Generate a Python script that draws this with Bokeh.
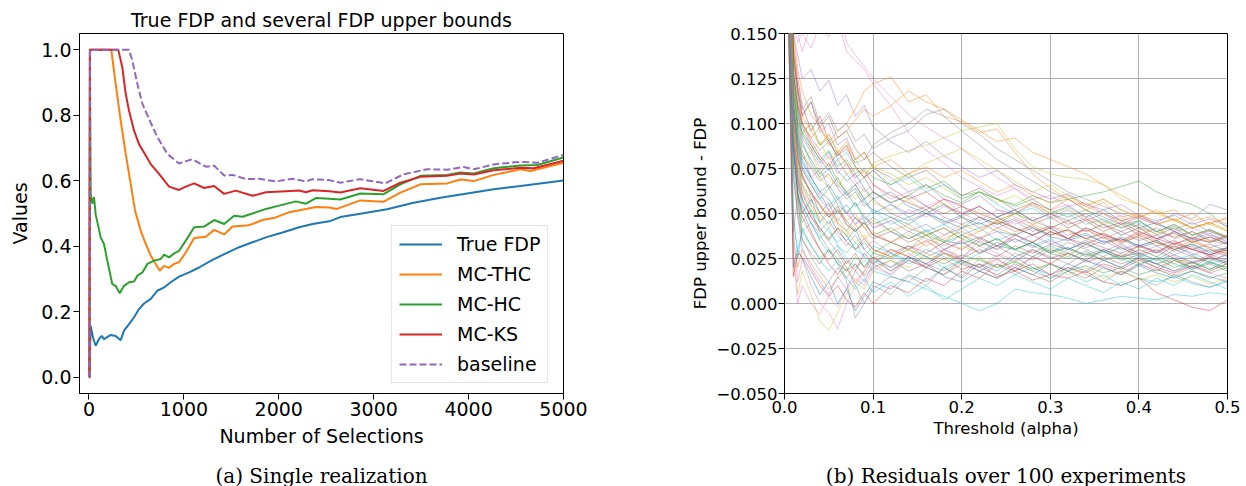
from bokeh.plotting import figure
from bokeh.layouts import row, column
from bokeh.models import (FixedTicker, CustomJSTickFormatter, Legend,
                          LegendItem, Range1d)
from bokeh.core.properties import value
from bokeh.embed import file_html
from bokeh.resources import INLINE

# ---------------- (a) Single realization ----------------
fdp_n = [0, 5, 18, 42, 70, 105, 134, 158, 229, 281, 334, 369, 422, 475, 527, 580,
         651, 721, 791, 861, 949, 1055, 1160, 1301, 1442, 1582, 1723, 1864, 2039,
         2215, 2356, 2532, 2648, 2859, 3140, 3421, 3703, 3984, 4265, 4546, 5000]
fdp_v = [0.0, 0.0, 0.157, 0.121, 0.096, 0.116, 0.126, 0.116, 0.129, 0.126, 0.113,
         0.142, 0.162, 0.183, 0.208, 0.225, 0.239, 0.264, 0.274, 0.290, 0.307,
         0.320, 0.335, 0.358, 0.378, 0.397, 0.412, 0.427, 0.442, 0.458, 0.468,
         0.476, 0.489, 0.499, 0.513, 0.533, 0.548, 0.561, 0.574, 0.584, 0.601]

thc_n = [0, 5, 10, 235, 281, 334, 387, 440, 485, 545, 598, 651, 703, 746, 791, 844,
         897, 949, 1020, 1108, 1231, 1319, 1424, 1512, 1660, 1723, 1828, 1969,
         2110, 2286, 2391, 2532, 2613, 2859, 3105, 3281, 3492, 3773, 3913, 4054,
         4265, 4546, 4652, 5000]
thc_v = [0.0, 0.0, 1.0, 1.0, 0.896, 0.784, 0.682, 0.590, 0.509, 0.447, 0.407,
         0.371, 0.346, 0.325, 0.340, 0.334, 0.346, 0.351, 0.381, 0.425, 0.429,
         0.450, 0.436, 0.460, 0.463, 0.468, 0.480, 0.488, 0.504, 0.514, 0.520,
         0.518, 0.514, 0.540, 0.536, 0.564, 0.589, 0.592, 0.604, 0.599, 0.618,
         0.635, 0.630, 0.655]

hc_n = [0, 5, 10, 14, 18, 35, 53, 70, 123, 158, 193, 246, 281, 324, 369, 422, 475,
        510, 563, 615, 686, 756, 791, 844, 897, 949, 1020, 1108, 1213, 1319, 1424,
        1530, 1618, 1723, 1864, 2004, 2180, 2286, 2391, 2532, 2648, 2859, 3105,
        3281, 3492, 3773, 3913, 4054, 4265, 4546, 4722, 5000]
hc_v = [0.0, 0.0, 1.0, 0.75, 0.56, 0.53, 0.55, 0.498, 0.427, 0.407, 0.356, 0.284,
        0.279, 0.256, 0.279, 0.290, 0.292, 0.310, 0.320, 0.346, 0.356, 0.361,
        0.374, 0.366, 0.378, 0.386, 0.417, 0.458, 0.460, 0.480, 0.468, 0.493,
        0.490, 0.500, 0.514, 0.524, 0.537, 0.530, 0.547, 0.545, 0.543, 0.561,
        0.559, 0.589, 0.615, 0.618, 0.625, 0.622, 0.638, 0.647, 0.648, 0.671]

ks_n = [0, 5, 10, 309, 351, 387, 422, 475, 527, 598, 650, 738, 844, 949, 1020,
        1108, 1213, 1319, 1424, 1547, 1723, 1864, 2075, 2215, 2286, 2356, 2532,
        2648, 2859, 3105, 3281, 3492, 3773, 3913, 4054, 4265, 4546, 4687, 5000]
ks_v = [0.0, 0.0, 1.0, 1.0, 0.947, 0.865, 0.814, 0.753, 0.712, 0.677, 0.651,
        0.621, 0.582, 0.572, 0.582, 0.592, 0.578, 0.584, 0.560, 0.570, 0.554,
        0.565, 0.568, 0.570, 0.565, 0.571, 0.568, 0.564, 0.577, 0.569, 0.594,
        0.612, 0.615, 0.622, 0.619, 0.632, 0.640, 0.638, 0.661]

base_n = [0, 5, 10, 422, 457, 510, 563, 633, 721, 826, 949, 1090, 1231, 1319,
          1424, 1512, 1653, 1793, 1969, 2145, 2286, 2356, 2532, 2648, 2859, 3122,
          3316, 3562, 3773, 3949, 4054, 4265, 4546, 4722, 5000]
base_v = [0.0, 0.0, 1.0, 1.0, 0.967, 0.896, 0.835, 0.789, 0.733, 0.682, 0.653,
          0.666, 0.643, 0.646, 0.616, 0.618, 0.605, 0.606, 0.598, 0.606, 0.598,
          0.605, 0.602, 0.594, 0.605, 0.592, 0.620, 0.635, 0.634, 0.642, 0.635,
          0.650, 0.658, 0.655, 0.679]

left_x_ticks = [0, 1000, 2000, 3000, 4000, 5000]
left_y_ticks = [0.0, 0.2, 0.4, 0.6, 0.8, 1.0]
series_labels = ["True FDP", "MC-THC", "MC-HC", "MC-KS", "baseline"]
captions = ["(a) Single realization", "(b) Residuals over 100 experiments"]

# ---------------- (b) Residuals over 100 experiments ----------------
res_alpha = [0.003, 0.01, 0.015, 0.02, 0.03, 0.04, 0.05, 0.06, 0.07, 0.08, 0.09,
             0.10, 0.12, 0.14, 0.16, 0.18, 0.20, 0.22, 0.24, 0.26, 0.28, 0.30,
             0.32, 0.34, 0.36, 0.38, 0.40, 0.42, 0.44, 0.46, 0.48, 0.50]
# residual values (upper bound - FDP) in thousandths
run_01 = [260, 120, 95, 80, 70, 62, 58, 50, 55, 47, 44, 48, 40, 36, 41, 35, 33, 37, 32, 30, 34, 29, 31, 27, 30, 26, 28, 24, 27, 23, 25, 22]
run_02 = [300, 150, 130, 118, 105, 98, 90, 96, 100, 108, 118, 122, 126, 112, 116, 104, 101, 95, 97, 84, 72, 64, 58, 52, 56, 48, 50, 44, 47, 42, 45, 40]
run_03 = [220, 90, 60, 45, 52, 40, 35, 42, 38, 30, 34, 28, 25, 30, 26, 22, 27, 24, 20, 23, 19, 22, 18, 21, 17, 20, 16, 19, 15, 18, 14, 17]
run_04 = [240, 110, 80, 72, 60, 55, 48, 52, 44, 40, 45, 38, 34, 30, 35, 28, 24, 20, 25, 18, 22, 16, 14, 18, 12, 10, 14, 6, 2, -2, -4, 2]
run_05 = [280, 140, 120, 105, 112, 95, 100, 88, 92, 80, 84, 75, 70, 62, 66, 58, 55, 60, 52, 50, 55, 48, 52, 46, 50, 44, 48, 45, 50, 47, 55, 52]
run_06 = [200, 70, 50, 35, 28, 22, 30, 25, 18, 22, 15, 20, 24, 18, 22, 28, 25, 30, 26, 32, 28, 33, 30, 35, 31, 28, 32, 29, 33, 30, 27, 30]
run_07 = [320, 160, 150, 140, 155, 152, 148, 158, 140, 135, 130, 122, 110, 95, 85, 78, 70, 65, 60, 64, 56, 52, 55, 48, 45, 49, 42, 40, 44, 38, 40, 36]
run_08 = [250, 130, 110, 100, 92, 85, 90, 82, 86, 78, 80, 88, 95, 100, 108, 104, 96, 88, 80, 74, 68, 62, 58, 52, 48, 44, 46, 40, 37, 40, 35, 33]
run_09 = [230, 110, 90, 80, 85, 72, 70, 65, 72, 75, 70, 78, 82, 85, 88, 92, 96, 98, 100, 86, 76, 72, 70, 69, 66, 58, 55, 50, 46, 42, 44, 40]
run_10 = [210, 45, 30, 40, 45, 35, 28, 32, 25, 20, 24, 18, 15, 12, 8, 4, 0, -4, 0, 8, 6, 5, 3, 0, 2, 4, 3, 2, 5, 4, 6, 5]
run_11 = [270, 130, 100, 90, 78, 70, 75, 66, 60, 64, 56, 52, 48, 44, 50, 46, 42, 45, 40, 38, 42, 37, 35, 38, 34, 36, 32, 35, 30, 33, 29, 31]
run_12 = [190, 35, 20, 30, 22, 15, 8, 14, 20, 12, 18, 25, 30, 26, 34, 38, 44, 40, 46, 42, 38, 43, 40, 36, 39, 35, 38, 34, 31, 35, 30, 28]
run_13 = [260, 120, 100, 95, 88, 80, 85, 76, 80, 72, 75, 70, 66, 72, 64, 68, 60, 62, 58, 55, 60, 56, 58, 60, 62, 65, 68, 62, 58, 55, 50, 42]
run_14 = [215, 85, 60, 52, 40, 30, 22, 16, 24, 18, 28, 22, 30, 26, 20, 25, 19, 22, 15, 18, 13, 16, 20, 17, 22, 19, 24, 20, 17, 21, 18, 22]
run_15 = [245, 115, 95, 85, 70, 75, 64, 70, 60, 66, 58, 62, 55, 50, 54, 48, 44, 48, 42, 46, 40, 43, 38, 41, 36, 40, 35, 38, 33, 36, 31, 34]
run_16 = [235, 105, 85, 70, 62, 50, 56, 45, 40, 48, 42, 36, 40, 34, 38, 30, 35, 28, 32, 26, 30, 25, 28, 23, 26, 22, 25, 20, 24, 19, 22, 18]
run_17 = [205, 40, 12, 25, 10, 0, -5, -14, 0, 10, 18, 26, 20, 28, 22, 30, 26, 32, 28, 24, 29, 25, 30, 27, 24, 28, 25, 22, 26, 23, 27, 24]
run_18 = [225, 95, 75, 62, 50, 42, 35, 28, 20, 10, 0, 8, 15, 12, 20, 16, 24, 20, 27, 23, 30, 26, 22, 28, 24, 20, 25, 22, 18, 21, 17, 20]
run_19 = [195, 30, 5, 18, 5, -10, -15, -5, 5, 12, 8, 18, 24, 20, 28, 24, 32, 28, 34, 30, 26, 31, 27, 33, 29, 25, 30, 26, 22, 26, 23, 20]
run_20 = [265, 125, 108, 95, 100, 88, 92, 80, 84, 76, 70, 74, 66, 70, 62, 66, 58, 62, 55, 50, 53, 47, 50, 44, 47, 42, 45, 40, 43, 38, 41, 37]
run_21 = [210, 85, 62, 50, 58, 45, 50, 40, 35, 42, 30, 25, 20, 26, 22, 15, 12, 18, 14, 20, 16, 22, 18, 24, 20, 16, 21, 17, 14, 18, 15, 12]
run_22 = [255, 125, 110, 100, 92, 98, 88, 92, 96, 102, 108, 104, 110, 118, 112, 108, 102, 96, 90, 92, 84, 80, 76, 72, 66, 60, 55, 50, 52, 46, 48, 44]
run_23 = [230, 100, 80, 66, 58, 50, 44, 52, 46, 40, 45, 38, 42, 36, 40, 34, 38, 32, 36, 30, 34, 28, 31, 26, 29, 24, 27, 22, 25, 20, 23, 19]
run_24 = [285, 145, 125, 110, 96, 104, 90, 82, 88, 76, 70, 74, 64, 58, 62, 55, 50, 54, 48, 52, 46, 50, 44, 47, 42, 45, 40, 36, 39, 34, 37, 33]
run_25 = [200, 72, 48, 30, 20, 12, 5, 15, 8, 18, 12, 22, 16, 26, 20, 30, 25, 35, 30, 38, 34, 40, 36, 42, 38, 34, 39, 35, 40, 36, 41, 37]
run_26 = [240, 110, 92, 82, 75, 68, 72, 64, 58, 62, 54, 58, 50, 46, 50, 44, 48, 42, 45, 40, 43, 38, 41, 36, 39, 34, 37, 32, 35, 30, 33, 29]
run_27 = [300, 155, 145, 150, 142, 155, 160, 170, 145, 138, 132, 125, 115, 105, 98, 92, 86, 78, 70, 64, 58, 60, 54, 56, 50, 46, 48, 44, 40, 42, 38, 35]
run_28 = [215, 90, 68, 55, 45, 38, 30, 22, 12, -8, 0, 10, 5, 15, 10, 20, 15, 25, 20, 28, 24, 30, 26, 33, 29, 25, 30, 26, 32, 28, 24, 27]
run_29 = [250, 120, 105, 92, 85, 90, 80, 85, 76, 80, 72, 76, 68, 72, 78, 82, 86, 80, 74, 68, 62, 66, 60, 55, 58, 52, 48, 51, 46, 42, 45, 41]
run_30 = [220, 95, 70, 60, 52, 45, 40, 34, 38, 30, 26, 32, 28, 22, 26, 20, 24, 18, 22, 16, 20, 14, 18, 12, 16, 10, 14, 12, 15, 11, 9, 12]
run_31 = [245, 112, 90, 78, 70, 62, 66, 58, 62, 54, 58, 50, 55, 48, 52, 45, 49, 54, 48, 52, 46, 50, 54, 48, 52, 46, 42, 45, 40, 36, 39, 34]
run_32 = [230, 105, 82, 70, 62, 55, 48, 54, 46, 50, 42, 46, 40, 44, 38, 42, 36, 40, 46, 50, 56, 52, 58, 54, 50, 46, 49, 44, 47, 42, 45, 47]
run_33 = [205, 78, 55, 40, 32, 25, 30, 22, 18, 26, 20, 28, 34, 30, 38, 34, 42, 48, 44, 50, 46, 42, 46, 40, 44, 38, 42, 36, 40, 34, 37, 33]
run_34 = [270, 135, 115, 100, 90, 82, 76, 84, 78, 70, 74, 66, 60, 56, 52, 58, 54, 50, 46, 42, 38, 42, 36, 33, 37, 31, 27, 30, 25, 22, 26, 23]
run_35 = [215, 88, 65, 58, 48, 40, 46, 38, 32, 38, 30, 35, 28, 32, 26, 30, 34, 28, 32, 36, 31, 35, 30, 34, 29, 33, 28, 32, 27, 31, 26, 29]
run_36 = [260, 128, 110, 98, 88, 80, 74, 80, 72, 66, 70, 62, 56, 60, 54, 50, 54, 48, 44, 47, 42, 38, 41, 36, 33, 36, 31, 34, 29, 32, 27, 30]
run_37 = [190, 25, 0, 10, 0, -6, 4, -2, 8, 14, 10, 20, 16, 24, 20, 28, 23, 18, 24, 20, 26, 22, 19, 24, 21, 17, 22, 19, 16, 20, 17, 14]
run_38 = [280, 140, 120, 108, 115, 100, 106, 96, 100, 90, 94, 86, 92, 96, 105, 108, 100, 94, 86, 80, 74, 68, 62, 58, 54, 50, 47, 44, 41, 45, 40, 37]
run_39 = [225, 98, 78, 66, 55, 48, 42, 48, 40, 34, 38, 30, 26, 30, 24, 28, 22, 26, 20, 24, 18, 22, 16, 20, 14, 18, 13, 16, 12, 15, 11, 14]
run_40 = [240, 108, 88, 76, 68, 60, 54, 60, 50, 56, 46, 52, 44, 48, 40, 44, 38, 42, 35, 39, 32, 36, 30, 34, 28, 31, 26, 29, 24, 27, 22, 25]
run_41 = [200, 20, 30, 25, 15, 5, 12, 0, 8, -4, 4, 12, 8, 16, 12, 20, 14, 22, 18, 26, 20, 16, 22, 18, 24, 20, 26, 22, 18, 23, 19, 24]
run_42 = [275, 140, 118, 104, 96, 88, 94, 84, 90, 80, 84, 76, 80, 72, 76, 70, 74, 68, 62, 66, 60, 56, 60, 54, 58, 52, 48, 52, 46, 50, 44, 48]
run_43 = [235, 108, 88, 75, 66, 58, 64, 55, 50, 56, 48, 44, 48, 42, 38, 42, 36, 32, 36, 30, 34, 28, 25, 29, 24, 27, 22, 25, 20, 23, 19, 22]
run_44 = [218, 92, 70, 58, 48, 42, 36, 42, 34, 30, 36, 30, 26, 32, 28, 34, 30, 36, 32, 38, 34, 40, 36, 42, 38, 35, 40, 36, 33, 37, 34, 38]
run_45 = [290, 150, 138, 125, 130, 118, 124, 110, 116, 104, 110, 98, 90, 84, 90, 82, 76, 70, 74, 66, 62, 58, 61, 55, 52, 55, 49, 46, 49, 44, 47, 43]
run_46 = [212, 86, 62, 48, 38, 30, 24, 30, 22, 28, 20, 26, 18, 24, 20, 16, 22, 18, 14, 20, 16, 12, 18, 14, 20, 16, 22, 18, 24, 20, 26, 22]
run_47 = [255, 122, 104, 92, 84, 76, 82, 72, 78, 68, 62, 66, 58, 62, 54, 58, 50, 54, 48, 44, 48, 42, 46, 40, 44, 38, 42, 36, 40, 35, 38, 33]
run_48 = [230, 100, 82, 70, 62, 54, 48, 54, 44, 40, 46, 38, 34, 40, 36, 32, 38, 34, 30, 36, 32, 28, 34, 30, 26, 32, 28, 24, 30, 26, 23, 28]
run_49 = [245, 115, 96, 84, 76, 70, 64, 70, 62, 58, 64, 56, 52, 58, 50, 56, 48, 52, 46, 50, 44, 48, 42, 46, 40, 44, 38, 42, 36, 40, 34, 38]
run_50 = [208, 50, 25, 42, 32, 24, 18, 24, 14, 8, 14, 6, 12, 4, 10, 2, 8, 14, 10, 16, 12, 8, 14, 10, 6, 12, 8, 14, 10, 16, 12, 8]
run_51 = [262, 128, 106, 94, 86, 78, 84, 74, 68, 72, 64, 58, 62, 54, 50, 55, 48, 44, 48, 42, 38, 42, 36, 39, 34, 37, 32, 35, 30, 33, 28, 31]
run_52 = [222, 94, 72, 62, 54, 46, 52, 44, 38, 44, 36, 40, 34, 38, 32, 36, 40, 36, 42, 38, 44, 40, 36, 41, 37, 33, 38, 34, 30, 34, 31, 27]
run_53 = [248, 118, 98, 88, 80, 72, 78, 68, 62, 66, 58, 62, 56, 60, 66, 60, 56, 62, 58, 54, 58, 52, 48, 52, 46, 42, 46, 40, 44, 38, 41, 36]
run_54 = [198, 15, 28, 26, 18, 10, 4, 10, 2, -2, 6, 0, 10, 6, 14, 10, 18, 14, 22, 18, 26, 22, 28, 24, 30, 26, 32, 28, 34, 30, 27, 31]
run_55 = [236, 106, 86, 74, 66, 58, 52, 58, 50, 44, 48, 42, 46, 40, 44, 38, 42, 36, 40, 34, 38, 33, 36, 31, 35, 30, 33, 28, 32, 27, 30, 26]
run_56 = [272, 138, 118, 104, 112, 98, 104, 92, 96, 86, 80, 84, 76, 70, 74, 66, 60, 64, 58, 52, 56, 50, 46, 50, 44, 40, 44, 38, 42, 36, 34, 37]
run_57 = [226, 96, 76, 64, 56, 62, 52, 46, 52, 44, 50, 42, 46, 52, 48, 54, 50, 46, 52, 48, 44, 48, 42, 46, 40, 44, 38, 42, 36, 40, 35, 38]
run_58 = [204, 40, 60, 36, 26, 18, 12, 20, 14, 22, 16, 24, 18, 26, 22, 18, 24, 20, 16, 22, 18, 14, 20, 16, 12, 18, 14, 10, 16, 12, 9, 13]
run_59 = [258, 124, 104, 94, 100, 88, 94, 84, 88, 80, 84, 76, 72, 66, 70, 64, 58, 62, 56, 60, 54, 50, 53, 47, 44, 47, 42, 39, 43, 38, 41, 37]
run_60 = [218, 90, 66, 54, 44, 36, 42, 32, 28, 34, 26, 22, 28, 24, 30, 26, 22, 28, 34, 30, 26, 32, 28, 24, 29, 25, 21, 26, 22, 19, 23, 20]
runs_milli = [run_01, run_02, run_03, run_04, run_05, run_06, run_07, run_08, run_09, run_10,
              run_11, run_12, run_13, run_14, run_15, run_16, run_17, run_18, run_19, run_20,
              run_21, run_22, run_23, run_24, run_25, run_26, run_27, run_28, run_29, run_30,
              run_31, run_32, run_33, run_34, run_35, run_36, run_37, run_38, run_39, run_40,
              run_41, run_42, run_43, run_44, run_45, run_46, run_47, run_48, run_49, run_50,
              run_51, run_52, run_53, run_54, run_55, run_56, run_57, run_58, run_59, run_60]

right_x_ticks = [0.0, 0.1, 0.2, 0.3, 0.4, 0.5]
right_y_ticks = [-0.05, -0.025, 0.0, 0.025, 0.05, 0.075, 0.1, 0.125, 0.15]

TAB10 = ["#1f77b4", "#ff7f0e", "#2ca02c", "#d62728", "#9467bd",
         "#8c564b", "#e377c2", "#7f7f7f", "#bcbd22", "#17becf"]
SANS = "DejaVu Sans"
SERIF = "DejaVu Serif"
MAIN_H = 456
CAP_H = 30


def style_axes(p, fs, tick_standoff, xlabel_standoff, ylabel_standoff):
    p.outline_line_color = "black"
    p.outline_line_width = 1
    for ax in (p.xaxis[0], p.yaxis[0]):
        ax.major_label_text_font = SANS
        ax.major_label_text_font_size = fs
        ax.major_label_text_color = "black"
        ax.axis_label_text_font = SANS
        ax.axis_label_text_font_size = fs
        ax.axis_label_text_font_style = "normal"
        ax.axis_label_text_color = "black"
        ax.major_tick_out = 6
        ax.major_tick_in = 0
        ax.major_tick_line_color = "black"
        ax.minor_tick_line_color = None
        ax.axis_line_color = "black"
        ax.major_label_standoff = tick_standoff
    p.xaxis[0].axis_label_standoff = xlabel_standoff
    p.yaxis[0].axis_label_standoff = ylabel_standoff


def caption_fig(width, text, center_x):
    c = figure(width=width, height=CAP_H, x_range=Range1d(0, width),
               y_range=Range1d(0, CAP_H), output_backend="svg",
               toolbar_location=None, x_axis_type=None, y_axis_type=None,
               min_border=0, min_border_left=0, min_border_right=0,
               min_border_top=0, min_border_bottom=0)
    c.outline_line_color = None
    c.grid.visible = False
    c.text(x=[center_x], y=[CAP_H - 19], text=[text], text_align="center",
           text_baseline="middle", text_font=value(SERIF),
           text_font_size="20px", text_color="black")
    return c


# ---- left figure ----
p1 = figure(width=640, height=MAIN_H, x_range=Range1d(-100, 5000),
            y_range=Range1d(-0.05, 1.05), output_backend="svg",
            toolbar_location=None, min_border_left=79, min_border_right=77,
            min_border_top=33, min_border_bottom=MAIN_H - 393)
p1.background_fill_color = "white"
p1.grid.visible = False
p1.title.text = "True FDP and several FDP upper bounds"
p1.title.align = "center"
p1.title.text_font = SANS
p1.title.text_font_size = "19px"
p1.title.text_font_style = "normal"
p1.title.text_color = "black"
p1.title.standoff = 6
p1.xaxis.axis_label = "Number of Selections"
p1.yaxis.axis_label = "Values"
p1.xaxis.ticker = FixedTicker(ticks=left_x_ticks)
p1.yaxis.ticker = FixedTicker(ticks=left_y_ticks)
p1.yaxis.formatter = CustomJSTickFormatter(code="return tick.toFixed(1);")
style_axes(p1, "19px", 2, 6, 7)

r_fdp = p1.line(fdp_n, fdp_v, line_color=TAB10[0], line_width=2)
r_thc = p1.line(thc_n, thc_v, line_color=TAB10[1], line_width=2)
r_hc = p1.line(hc_n, hc_v, line_color=TAB10[2], line_width=2)
r_ks = p1.line(ks_n, ks_v, line_color=TAB10[3], line_width=2)
r_base = p1.line(base_n, base_v, line_color=TAB10[4], line_width=2, line_dash="7 3")

legend = Legend(items=[LegendItem(label=lab, renderers=[r]) for lab, r in
                       zip(series_labels, [r_fdp, r_thc, r_hc, r_ks, r_base])],
                location=(312, 10))
legend.label_text_font = SANS
legend.label_text_font_size = "19px"
legend.label_text_color = "black"
legend.glyph_width = 43
legend.glyph_height = 22
legend.label_height = 22
legend.label_standoff = 15
legend.spacing = 8
legend.padding = 7
legend.margin = 0
legend.border_line_color = "#cccccc"
legend.border_line_width = 1
legend.background_fill_alpha = 0.8
p1.add_layout(legend)

# ---- right figure ----
p2 = figure(width=606, height=MAIN_H, x_range=Range1d(0, 0.5),
            y_range=Range1d(-0.05, 0.15), output_backend="svg",
            toolbar_location=None, min_border_left=144, min_border_right=19,
            min_border_top=11, min_border_bottom=MAIN_H - 395)
p2.xaxis.axis_label = "Threshold (alpha)"
p2.yaxis.axis_label = "FDP upper bound - FDP"
p2.xaxis.ticker = FixedTicker(ticks=right_x_ticks)
p2.yaxis.ticker = FixedTicker(ticks=right_y_ticks)
p2.yaxis.formatter = CustomJSTickFormatter(
    code="return (tick < -1e-9 ? '\u2212' : '') + Math.abs(tick).toFixed(3);")
p2.xaxis.formatter = CustomJSTickFormatter(code="return tick.toFixed(1);")
style_axes(p2, "16.5px", 1, 3, 3)
p2.grid.grid_line_color = "#b0b0b0"
p2.grid.grid_line_width = 1
p2.grid.grid_line_alpha = 1

xs = [res_alpha for _ in runs_milli]
ys = [[v / 1000.0 for v in run] for run in runs_milli]
cols = [TAB10[i % 10] for i in range(len(runs_milli))]
p2.multi_line(xs=xs, ys=ys, line_color=cols, line_alpha=0.45, line_width=1)

cap1 = caption_fig(640, captions[0], 321)
cap2 = caption_fig(606, captions[1], 365.5)

layout = column(row(p1, p2, spacing=0), row(cap1, cap2, spacing=0), spacing=0)
open("out.html", "w").write(file_html(layout, INLINE))
